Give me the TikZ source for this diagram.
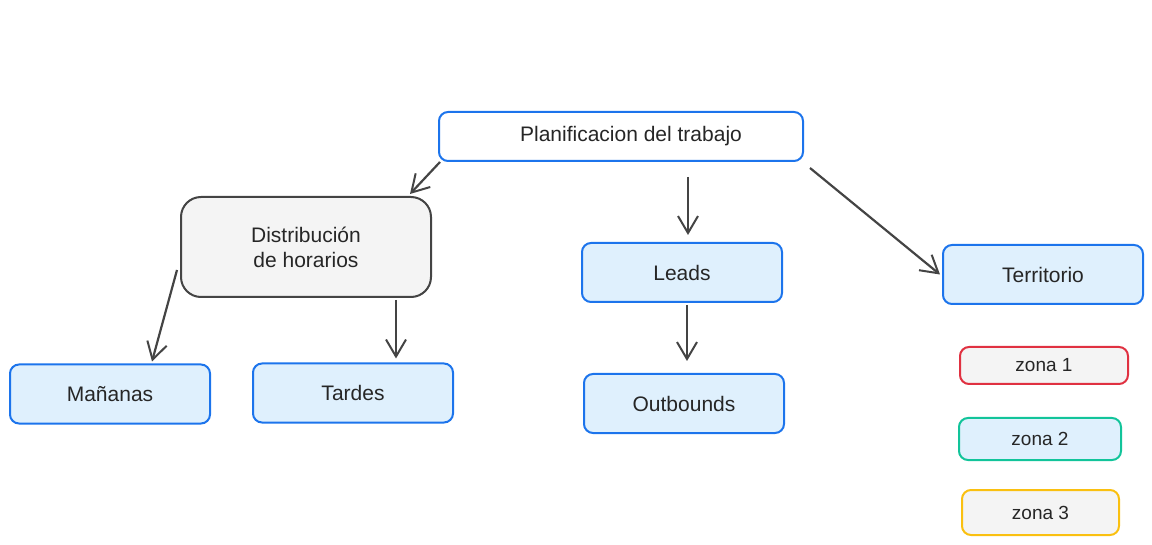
\documentclass[tikz,border=0pt]{standalone}
\usepackage{fontspec}
\setmainfont{Liberation Sans}
\usetikzlibrary{arrows.meta}
\definecolor{bblue}{HTML}{1C74EC}
\definecolor{lblue}{HTML}{DFF0FD}
\definecolor{lgray}{HTML}{F4F4F4}
\definecolor{dgray}{HTML}{444444}
\definecolor{zred}{HTML}{E03141}
\definecolor{zteal}{HTML}{12C49A}
\definecolor{zyellow}{HTML}{FAC010}
\tikzset{
  box/.style={draw=bblue, line width=2pt, rounded corners=9pt, fill=lblue,
    minimum width=200pt, minimum height=59pt, inner sep=0pt,
    font=\fontsize{21}{25}\selectfont, text=black!85},
  zbox/.style={box, font=\fontsize{19}{22}\selectfont},
  conn/.style={draw=dgray, line width=2.2pt,
    -{Straight Barb[length=17pt,width=20pt,line width=2pt]}}
}
\begin{document}
\begin{tikzpicture}[x=1pt,y=-1pt]
\useasboundingbox (0,0) rectangle (1152,545);
\node[box, fill=white, minimum width=364pt, minimum height=49pt] (plan) at (621,136.5) {\hspace*{20pt}Planificacion del trabajo};
\node[box, draw=dgray, fill=lgray, minimum width=250pt, minimum height=100pt, rounded corners=20pt, align=center] (dist) at (306,247) {Distribución\\de horarios};
\node[box] (leads) at (682,272.5) {Leads};
\node[box] (terr) at (1043,274.5) {Territorio};
\node[box] (outb) at (684,403.5) {Outbounds};
\node[box] (man) at (110,394) {Mañanas};
\node[box] (tar) at (353,393) {Tardes};
\node[zbox, draw=zred, fill=lgray, minimum width=168pt, minimum height=37pt] (z1) at (1044,365.5) {zona 1};
\node[zbox, draw=zteal, fill=lblue, minimum width=162pt, minimum height=42pt] (z2) at (1040,439) {zona 2};
\node[zbox, draw=zyellow, fill=lgray, minimum width=157pt, minimum height=45pt] (z3) at (1040.5,512.5) {zona 3};
\draw[conn] ([shift={(2,0)}]plan.south west) -- ([shift={(-22,-2)}]dist.north east);
\draw[conn] ([shift={(67,15)}]plan.south) -- ([shift={(6,-7)}]leads.north);
\draw[conn] ([shift={(6,6)}]plan.south east) -- ([shift={(-2,0)}]terr.west);
\draw[conn] ([shift={(-3,23)}]dist.west) -- ([shift={(42,-2)}]man.north);
\draw[conn] ([shift={(90,2)}]dist.south) -- ([shift={(43,-4)}]tar.north);
\draw[conn] ([shift={(5,2)}]leads.south) -- ([shift={(3,-12)}]outb.north);
\end{tikzpicture}
\end{document}
